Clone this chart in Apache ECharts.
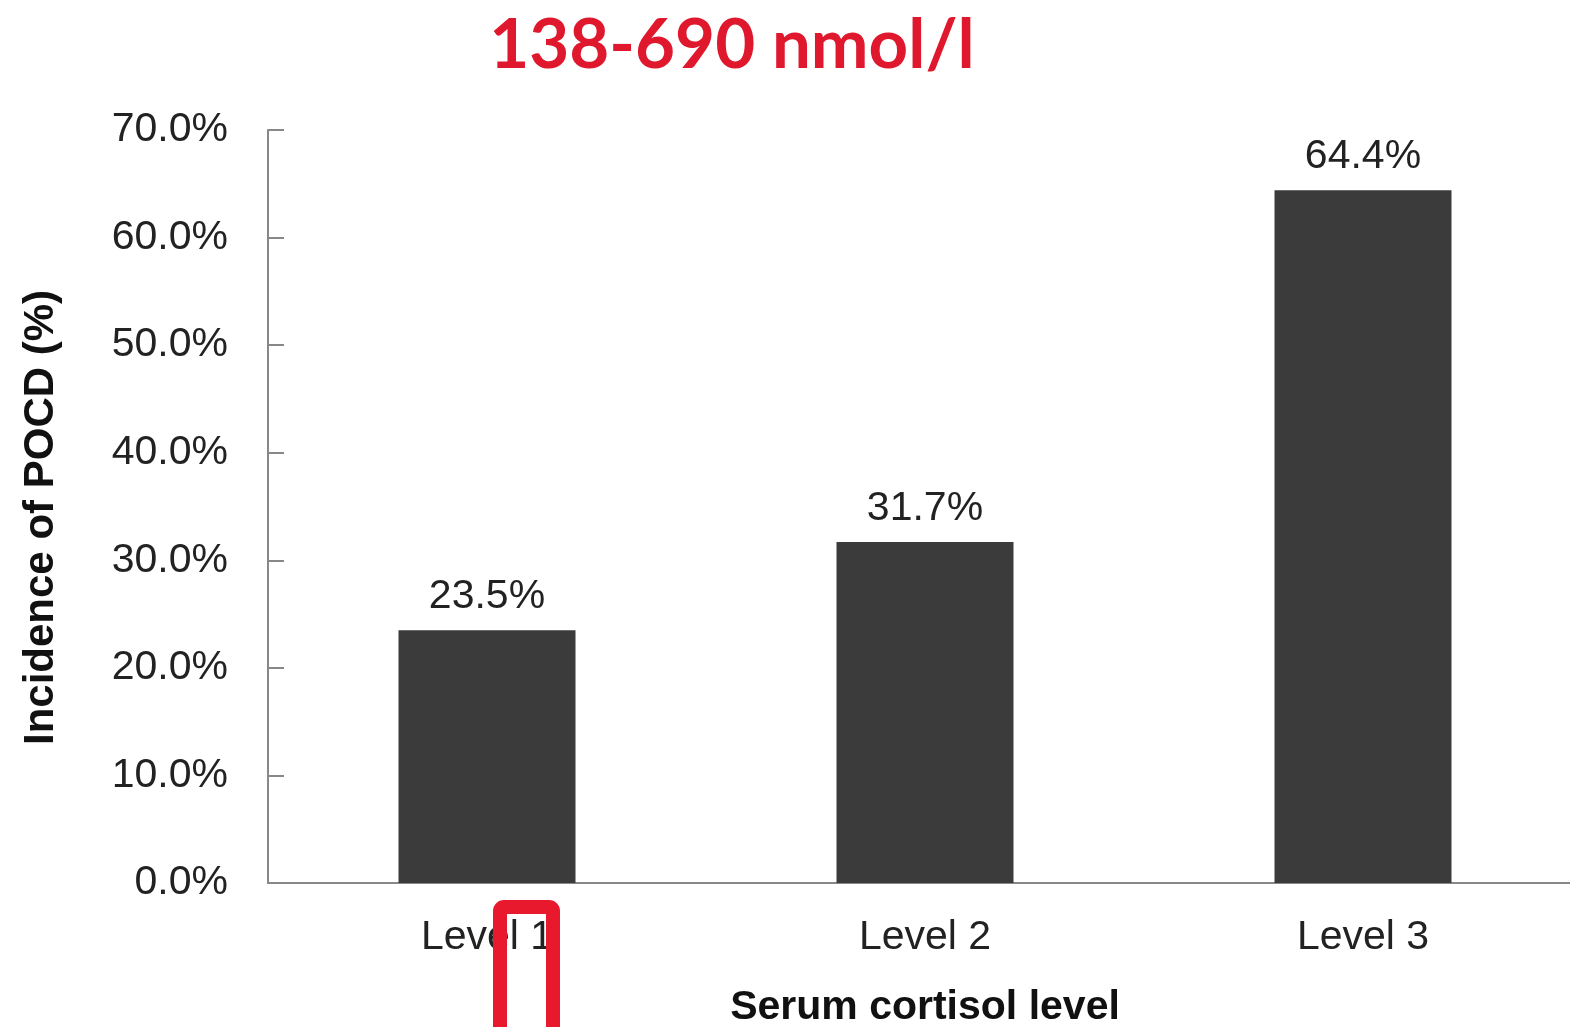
<!DOCTYPE html>
<html><head><meta charset="utf-8">
<script src="https://cdn.jsdelivr.net/npm/echarts@6/dist/echarts.min.js"></script>
<style>html,body{margin:0;padding:0;background:#fff}#c{width:1570px;height:1027px}</style>
</head><body><div id="c"></div>
<script>
const categories = ['Level 1', 'Level 2', 'Level 3'];
const incidence = [23.5, 31.7, 64.4];
const yTicks = [0, 10, 20, 30, 40, 50, 60, 70];
const titleText = '138-690 nmol/l';
const xName = 'Serum cortisol level';
const yName = 'Incidence of POCD (%)';

const chart = echarts.init(document.getElementById('c'));
chart.setOption({
  animation: false,
  backgroundColor: '#fff',
  title: {
    text: titleText, left: 727, top: 6, textAlign: 'center',
    textStyle: { fontFamily: 'Lato', fontWeight: 'bold', fontSize: 69, color: '#e0182e' }
  },
  grid: { left: 268, width: 1314, top: 130, height: 753, outerBoundsMode: 'none', containLabel: false },
  xAxis: {
    type: 'category', data: categories,
    name: xName, nameLocation: 'middle', nameGap: 104,
    nameTextStyle: { fontFamily: 'Liberation Sans', fontWeight: 'bold', fontSize: 41, color: '#111' },
    axisLine: { lineStyle: { color: '#888', width: 2 } },
    axisTick: { show: false },
    axisLabel: { margin: 34, fontFamily: 'Liberation Sans', fontSize: 41, color: '#222' }
  },
  yAxis: {
    type: 'value', min: yTicks[0], max: yTicks[yTicks.length - 1], interval: 10,
    name: yName, nameLocation: 'middle', nameGap: 206, nameRotate: 90,
    nameTextStyle: { fontFamily: 'Liberation Sans', fontWeight: 'bold', fontSize: 42, color: '#111', padding: [0, 22, 0, 0] },
    axisLine: { show: true, lineStyle: { color: '#888', width: 2 } },
    axisTick: { show: true, inside: true, length: 16, lineStyle: { color: '#888', width: 2 } },
    splitLine: { show: false },
    axisLabel: { margin: 40, fontFamily: 'Liberation Sans', fontSize: 41, color: '#222',
      formatter: v => v.toFixed(1) + '%' }
  },
  series: [{
    type: 'bar', data: incidence, barWidth: 177,
    itemStyle: { color: '#3b3b3b' },
    label: { show: true, position: 'top', distance: 13, fontFamily: 'Liberation Sans', fontSize: 41, color: '#222',
      formatter: p => p.value.toFixed(1) + '%' }
  }],
  graphic: [{
    type: 'rect', shape: { x: 500, y: 907, width: 53, height: 160, r: 4 },
    style: { fill: 'none', stroke: '#e8192c', lineWidth: 14 }, z: 100
  }]
});
</script></body></html>
